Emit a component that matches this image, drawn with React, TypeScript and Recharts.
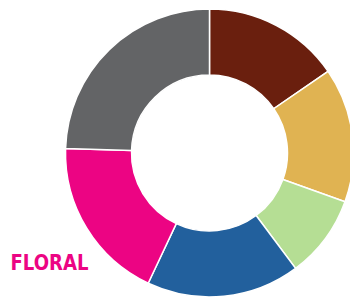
import { PieChart, Pie, Cell } from 'recharts';

const names = ['WOODY', 'ORIENTAL', 'FRESH', 'CITRUS', 'FLORAL', 'OTHER'];
const shares = [15.4, 15.1, 9.3, 17.2, 18.5, 24.5];
const colors = ['#6a1f0e', '#e0b352', '#b5de94', '#22609d', '#ec0483', '#636466'];
const shownLabels = ['FLORAL'];

const data = names.map((name, i) => ({ name, value: shares[i] }));

// only the floral label is visible in the crop, sitting below-left of its slice
function renderLabel(props: any) {
  const { cx, cy, name } = props;
  if (!shownLabels.includes(name)) return null;
  return (
    <text
      x={cx - 121}
      y={cy + 117}
      textAnchor="end"
      fill="#ec0483"
      fontSize={22}
      fontWeight="bold"
      textLength={78}
      lengthAdjust="spacingAndGlyphs"
      fontFamily="'Liberation Sans Narrow', 'DejaVu Sans Condensed', sans-serif"
    >
      {name}
    </text>
  );
}

export default function App() {
  return (
    <div style={{ position: 'absolute', left: 0, top: 0, width: 350, height: 300, background: '#fff' }}>
      <PieChart width={350} height={300} margin={{ top: 0, right: 0, bottom: 0, left: 0 }}>
        <Pie
          data={data}
          dataKey="value"
          nameKey="name"
          cx={209.5}
          cy={153}
          innerRadius={78}
          outerRadius={144}
          startAngle={90}
          endAngle={-270}
          stroke="#fff"
          strokeWidth={1.5}
          label={renderLabel}
          labelLine={false}
          isAnimationActive={false}
        >
          {data.map((d, i) => (
            <Cell key={d.name} fill={colors[i]} />
          ))}
        </Pie>
      </PieChart>
    </div>
  );
}
